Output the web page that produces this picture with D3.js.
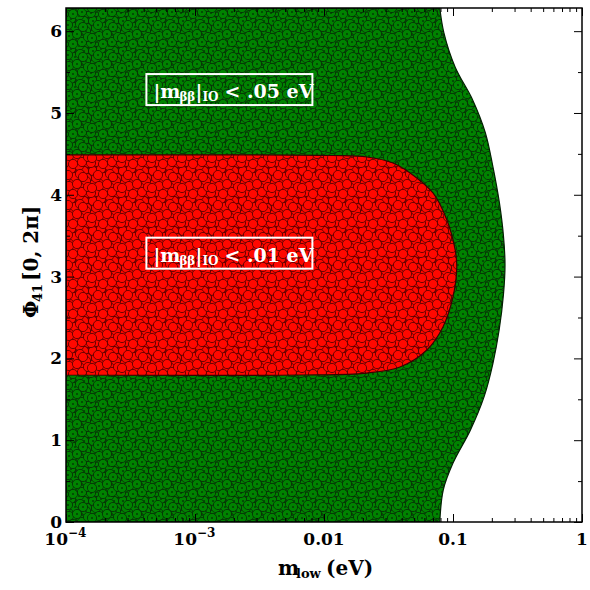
<!DOCTYPE html>
<html>
<head>
<meta charset="utf-8">
<script src="https://cdn.jsdelivr.net/npm/d3@7"></script>
<style>
  body { margin: 0; background: #fff; }
  svg { display: block; }
</style>
</head>
<body>
<svg id="chart" width="590" height="590"></svg>
<script>
// Axis ranges and ticks
const xDomain = [1e-4, 1];
const yDomain = [0, 2 * Math.PI];
const xMajorTicks = [1e-4, 1e-3, 1e-2, 1e-1, 1];
const xTickLabels = ['10^-4', '10^-3', '0.01', '0.1', '1'];
const yMajorTicks = [0, 1, 2, 3, 4, 5, 6];

// Outer (green) region: right edge m_low (eV) for each Phi41
const greenPhi = [0.00, 0.39, 0.72, 1.12, 1.53, 1.94, 2.35, 2.78, 3.14, 3.50, 3.90, 4.34, 4.76, 5.16, 5.56, 5.98, 6.283];
const greenM   = [0.079, 0.084, 0.100, 0.136, 0.174, 0.204, 0.228, 0.246, 0.253, 0.246, 0.229, 0.204, 0.178, 0.142, 0.104, 0.085, 0.079];

// Inner (red) region boundary, traced from bottom-left round to top-left
const redM   = [1e-4, 0.0065, 0.0215, 0.0388, 0.0628, 0.0836, 0.100, 0.107, 0.104, 0.0897, 0.070, 0.0465, 0.0343, 0.0215, 0.0117, 1e-4];
const redPhi = [1.797, 1.797, 1.821, 1.895, 2.103, 2.384, 2.751, 3.117, 3.325, 3.692, 4.022, 4.267, 4.389, 4.462, 4.480, 4.487];

// Region labels
const labels = [
    { phi: 5.28, text: '.05' },
    { phi: 3.28, text: '.01' }
];

const width = 590, height = 590;
const margin = { top: 8, right: 8, bottom: 68, left: 66 };
const innerWidth = width - margin.left - margin.right;
const innerHeight = height - margin.top - margin.bottom;
const font_family = '"DejaVu Serif", serif';

const svg = d3.select('#chart');

const xScale = d3.scaleLog().domain(xDomain).range([margin.left, margin.left + innerWidth]);
const yScale = d3.scaleLinear().domain(yDomain).range([margin.top + innerHeight, margin.top]);

// Texture patterns that mimic the dense scatter of points
const defs = svg.append('defs');
const tile = 30;
const dots = [
    [4, 4], [13, 2], [22, 5], [28, 13], [7, 12], [16, 10], [24, 21], [3, 21],
    [11, 19], [19, 16], [15, 27], [6, 28], [27, 28], [22, 12], [9, 6], [20, 24],
    [1, 13], [17, 4], [26, 1], [13, 14], [8, 25], [28, 7], [2, 8], [23, 27]
];
function makePattern(id, bg, fill, stroke, centre) {
    const p = defs.append('pattern')
        .attr('id', id)
        .attr('patternUnits', 'userSpaceOnUse')
        .attr('width', tile)
        .attr('height', tile);
    p.append('rect').attr('width', tile).attr('height', tile).attr('fill', bg);
    const offs = [-tile, 0, tile];
    dots.forEach(([cx, cy]) => {
        offs.forEach(ox => offs.forEach(oy => {
            const g = p.append('g').attr('transform', `translate(${cx + ox},${cy + oy})`);
            g.append('circle').attr('r', 4.6).attr('fill', fill)
                .attr('stroke', stroke).attr('stroke-width', 0.8);
            if (centre) {
                g.append('circle').attr('r', 1).attr('fill', centre);
            }
        }));
    });
}
makePattern('greenDots', '#0a420a', '#008300', '#052805', '#043a04');
makePattern('redDots', '#900000', '#ff0800', '#4a0000', null);

defs.append('clipPath').attr('id', 'plotClip')
    .append('rect')
    .attr('x', margin.left).attr('y', margin.top)
    .attr('width', innerWidth).attr('height', innerHeight);

const plot = svg.append('g').attr('clip-path', 'url(#plotClip)');

const edgeLine = d3.line()
    .x(d => xScale(d[0]))
    .y(d => yScale(d[1]))
    .curve(d3.curveCatmullRom.alpha(0.5));

// Green region
const greenPts = greenPhi.map((p, i) => [greenM[i], p]);
const greenPath = edgeLine(greenPts) +
    `L${xScale(xDomain[0]) - 2},${yScale(yDomain[1])}L${xScale(xDomain[0]) - 2},${yScale(0)}Z`;
plot.append('path')
    .attr('d', greenPath)
    .attr('fill', 'url(#greenDots)')
    .attr('stroke', '#032003')
    .attr('stroke-width', 1.2);

// Red region
const redPts = redPhi.map((p, i) => [redM[i], p]);
const redPath = edgeLine(redPts) + 'Z';
plot.append('path')
    .attr('d', redPath)
    .attr('fill', 'url(#redDots)')
    .attr('stroke', '#3a0000')
    .attr('stroke-width', 1.2);

// Axes (ticks inward on all sides)
const xMinor = [];
for (let e = -4; e < 0; e++) {
    for (let k = 2; k <= 9; k++) xMinor.push(k * Math.pow(10, e));
}
const yMinor = d3.range(0.5, 6.3, 1);

function tickSet(axisFn, scale, values, size, translate) {
    svg.append('g')
        .attr('transform', translate)
        .call(axisFn(scale).tickValues(values).tickSize(-size).tickFormat(''))
        .call(g => g.select('.domain').remove())
        .call(g => g.selectAll('line').attr('stroke', '#000').attr('stroke-width', 1));
}
const bottomY = margin.top + innerHeight, rightX = margin.left + innerWidth;
tickSet(d3.axisBottom, xScale, xMajorTicks, 8, `translate(0,${bottomY})`);
tickSet(d3.axisBottom, xScale, xMinor, 4, `translate(0,${bottomY})`);
tickSet(d3.axisTop, xScale, xMajorTicks, 8, `translate(0,${margin.top})`);
tickSet(d3.axisTop, xScale, xMinor, 4, `translate(0,${margin.top})`);
tickSet(d3.axisLeft, yScale, yMajorTicks, 8, `translate(${margin.left},0)`);
tickSet(d3.axisLeft, yScale, yMinor, 4, `translate(${margin.left},0)`);
tickSet(d3.axisRight, yScale, yMajorTicks, 8, `translate(${rightX},0)`);
tickSet(d3.axisRight, yScale, yMinor, 4, `translate(${rightX},0)`);

// Frame
svg.append('rect')
    .attr('x', margin.left).attr('y', margin.top)
    .attr('width', innerWidth)
    .attr('height', innerHeight)
    .attr('fill', 'none')
    .attr('stroke', '#000')
    .attr('stroke-width', 1.5);

function addText(x, y, str, size, anchor, fill) {
    return svg.append('text')
        .attr('x', x).attr('y', y)
        .attr('text-anchor', anchor || 'start')
        .attr('fill', fill || '#000')
        .attr('font-family', font_family)
        .attr('font-weight', 'bold')
        .attr('font-size', size)
        .text(str);
}

// X tick labels
xMajorTicks.forEach((v, i) => {
    const lab = xTickLabels[i];
    const y = bottomY + 23;
    if (lab.startsWith('10^')) {
        addText(xScale(v) + 2, y, '10', 17, 'end');
        addText(xScale(v) + 2, y - 8, '\u2212' + lab.slice(4), 12, 'start');
    } else {
        addText(xScale(v), y, lab, 17, 'middle');
    }
});

// Y tick labels
yMajorTicks.forEach(v => {
    addText(margin.left - 4, yScale(v) + 6, String(v), 17, 'end');
});

// X axis title
addText(278, 575, 'm', 20, 'start');
addText(296, 578, 'low', 13, 'start');
addText(326, 575, '(eV)', 20, 'start');

// Y axis title
const yTitle = svg.append('g')
    .attr('transform', `translate(38,${yScale(Math.PI)}) rotate(-90)`);
yTitle.append('text')
    .attr('x', -53).attr('y', 0)
    .attr('font-family', font_family).attr('font-weight', 'bold').attr('font-size', 20)
    .text('\u03A6');
yTitle.append('text')
    .attr('x', -37).attr('y', 4)
    .attr('font-family', font_family).attr('font-weight', 'bold').attr('font-size', 13)
    .text('41');
yTitle.append('text')
    .attr('x', -16).attr('y', 0)
    .attr('font-family', font_family).attr('font-weight', 'bold').attr('font-size', 20)
    .text('[0, 2\u03C0]');

// Region labels in white boxes
labels.forEach(d => {
    const x0 = xScale(4.2e-4), y0 = yScale(d.phi);
    svg.append('rect')
        .attr('x', x0).attr('y', y0 - 16)
        .attr('width', 166).attr('height', 31)
        .attr('fill', 'none')
        .attr('stroke', '#fff')
        .attr('stroke-width', 2);
    addText(x0 + 7, y0 + 8, '|m', 19, 'start', '#fff');
    addText(x0 + 33, y0 + 11, '\u03B2\u03B2', 12, 'start', '#fff');
    addText(x0 + 49, y0 + 8, '|', 19, 'start', '#fff');
    addText(x0 + 56, y0 + 11, 'IO', 12, 'start', '#fff');
    addText(x0 + 78, y0 + 8, '< ' + d.text + ' eV', 19, 'start', '#fff');
});
</script>
</body>
</html>
